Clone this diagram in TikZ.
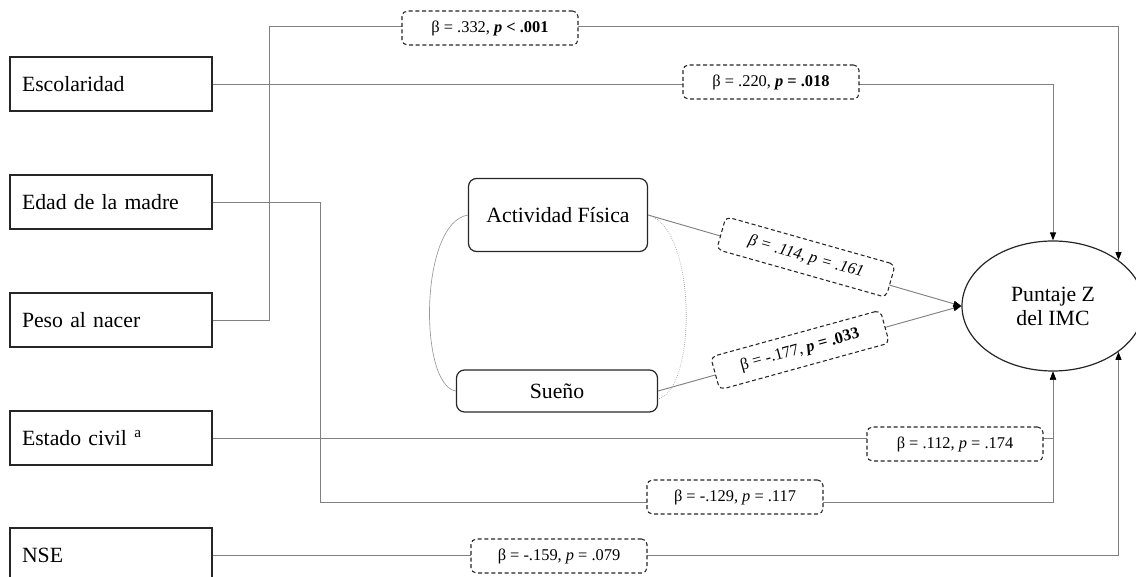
\documentclass[tikz,border=0pt]{standalone}
\usepackage{fontspec}
\setmainfont{Liberation Serif}
\usetikzlibrary{shapes.geometric,arrows.meta}
\definecolor{conn}{HTML}{808080}
\definecolor{edge}{HTML}{262626}
\tikzset{
  leftbox/.style={draw=edge,line width=0.9pt,minimum width=151.5pt,minimum height=40.5pt,
    text width=133.5pt,inner xsep=9pt,align=left,font=\fontsize{16.3}{19}\selectfont},
  midbox/.style={draw=edge,line width=0.9pt,rounded corners=6pt,font=\fontsize{16.3}{19}\selectfont},
  lbl/.style={draw=edge,fill=white,dashed,dash pattern=on 3pt off 2pt,line width=0.8pt,rounded corners=4pt,
    minimum width=132pt,minimum height=25.5pt,inner sep=0pt,font=\fontsize{12.3}{14}\selectfont},
  cline/.style={draw=conn,line width=0.7pt},
  arr/.style={cline,-{Triangle[length=6pt,width=4.5pt,fill=black,color=black]}},
  curv/.style={draw=conn!80,line width=0.5pt}
}
\begin{document}
\begin{tikzpicture}[x=0.75pt,y=-0.75pt]
\useasboundingbox (0,0) rectangle (1136,577);
% left boxes
\node[leftbox] (esc) at (111,84) {Escolaridad};
\node[leftbox] (eda) at (111,202) {Edad de la madre};
\node[leftbox] (pes) at (111,320) {Peso al nacer};
\node[leftbox] (est) at (111,438) {Estado civil \textsuperscript{a}};
\node[leftbox] (nse) at (111,555) {NSE};
% middle boxes
\node[midbox,minimum width=134.25pt,minimum height=54.75pt] (act) at (558,215) {Actividad Física};
\node[midbox,minimum width=150.75pt,minimum height=31.5pt] (sue) at (557,391) {Sueño};
% outcome
\node[draw=edge,line width=0.9pt,ellipse,minimum width=136.5pt,minimum height=97.5pt,inner sep=0pt,
  align=center,font=\fontsize{16.3}{19}\selectfont] (ell) at (1053,306) {Puntaje Z\\[-1pt]del IMC};
% helper coordinates
\coordinate (pesx) at (269,26);
\coordinate (edax) at (320,502);
% connectors
\draw[arr] (esc.east) -| (ell.north);
\draw[arr] (pes.east) -| (pesx) -| (ell.35);
\draw[arr] (eda.east) -| (edax) -| (ell.south);
\draw[arr] (est.east) -| (ell.south);
\draw[arr] (nse.east) -| (ell.-35);
\draw[arr] (act.east) -- (ell.west);
\draw[arr] (sue.east) -- (ell.west);
% covariance curves
\draw[curv] (act.west) .. controls +(-49,8) and +(-37,-5) .. (sue.west);
\draw[curv,densely dotted] (act.east) .. controls +(49,13) and +(39,-10) .. ([yshift=-6pt]sue.east);
% labels
\node[lbl] (l1) at (490,28) {β = .332, \textbf{\textit{p}} \textbf{< .001}};
\node[lbl] (l2) at (771,82) {β = .220, \textbf{\textit{p}} \textbf{= .018}};
\node[lbl,rotate=-15.8] (l3) at (806,257) {\textit{β = .114, p = .161}};
\node[lbl,rotate=15.4] (l4) at (800,350) {β = -.177, \textbf{\textit{p}} \textbf{= .033}};
\node[lbl] (l5) at (955,444) {β = .112, \textit{p} = .174};
\node[lbl] (l6) at (735,497) {β = -.129, \textit{p} = .117};
\node[lbl] (l7) at (559,556) {β = -.159, \textit{p} = .079};
\end{tikzpicture}
\end{document}
